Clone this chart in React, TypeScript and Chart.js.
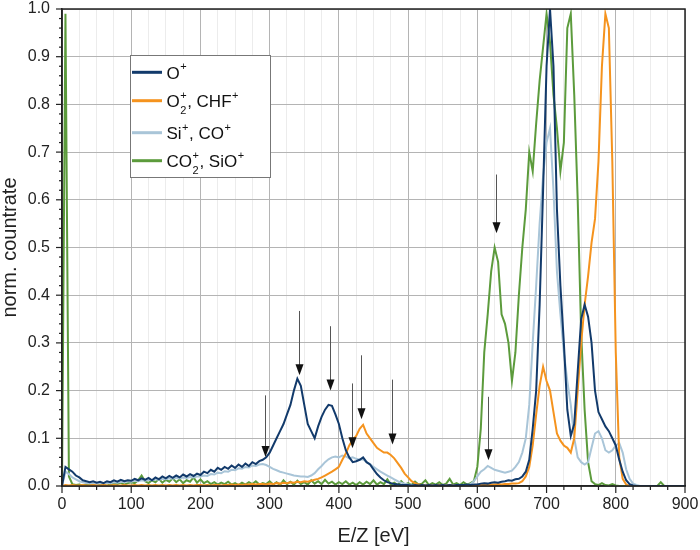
import { useEffect, useRef } from "react";
import { Chart, registerables } from "chart.js";

Chart.register(...registerables);

const FONT = "Arial, 'Liberation Sans', Helvetica, sans-serif";

// Energy grid (eV), 0..900 in 5 eV steps
const energy: number[] = Array.from({ length: 181 }, (_, i) => i * 5);

const oPlus: number[] = [
  0.0, 0.04, 0.035, 0.03, 0.022, 0.018, 0.012, 0.01, 0.008, 0.01, 0.007, 0.009, 0.006, 0.01, 0.008, 0.012, 0.009, 0.013, 0.01, 0.012,
  0.011, 0.015, 0.012, 0.016, 0.013, 0.017, 0.012, 0.018, 0.014, 0.02, 0.016, 0.021, 0.017, 0.022, 0.018, 0.024, 0.02, 0.025, 0.021, 0.026,
  0.023, 0.03, 0.027, 0.034, 0.03, 0.038, 0.034, 0.04, 0.036, 0.043, 0.038, 0.045, 0.04, 0.047, 0.042, 0.05, 0.046, 0.052, 0.055, 0.06,
  0.07, 0.085, 0.1, 0.115, 0.13, 0.15, 0.17, 0.2, 0.225, 0.21, 0.17, 0.13, 0.115, 0.1, 0.125, 0.145, 0.16, 0.17, 0.168, 0.15,
  0.13, 0.1, 0.075, 0.06, 0.05, 0.052, 0.055, 0.06, 0.05, 0.045, 0.035, 0.025, 0.018, 0.012, 0.008, 0.006, 0.004, 0.003, 0.002, 0.002,
  0.002, 0.001, 0.002, 0.001, 0.002, 0.001, 0.002, 0.001, 0.002, 0.001, 0.002, 0.001, 0.002, 0.001, 0.002, 0.002, 0.002, 0.003, 0.002, 0.003,
  0.003, 0.005, 0.006, 0.005, 0.007, 0.008, 0.007, 0.009, 0.01, 0.012, 0.011, 0.014, 0.015, 0.02, 0.03, 0.055, 0.12, 0.2, 0.38, 0.62,
  0.88, 1.0, 0.88, 0.58, 0.42, 0.3, 0.16, 0.105, 0.13, 0.24, 0.35, 0.38, 0.355, 0.3, 0.2, 0.155, 0.14, 0.125, 0.115, 0.1,
  0.085, 0.055, 0.03, 0.012, 0.004, 0.001, 0, 0, 0, 0, 0, 0, 0, 0, 0, 0, 0, 0, 0, 0,
  0,
];

const o2Plus: number[] = [
  0, 0.002, 0.001, 0.002, 0.001, 0.001, 0.002, 0.001, 0.001, 0.002, 0.001, 0.001, 0.002, 0.001, 0.001, 0.002, 0.001, 0.001, 0.002, 0.001,
  0.001, 0.002, 0.001, 0.002, 0.001, 0.002, 0.001, 0.002, 0.001, 0.002, 0.001, 0.002, 0.001, 0.002, 0.001, 0.002, 0.001, 0.002, 0.001, 0.002,
  0.002, 0.001, 0.002, 0.001, 0.002, 0.002, 0.001, 0.002, 0.002, 0.003, 0.002, 0.003, 0.002, 0.003, 0.003, 0.004, 0.003, 0.004, 0.004, 0.003,
  0.005, 0.004, 0.006, 0.005, 0.007, 0.006, 0.008, 0.007, 0.009, 0.008, 0.01, 0.009, 0.011, 0.013, 0.015, 0.018, 0.022, 0.026, 0.03, 0.035,
  0.04, 0.055, 0.068, 0.085, 0.097, 0.105, 0.12, 0.128, 0.11, 0.1, 0.09, 0.08, 0.075, 0.07, 0.07, 0.065, 0.058, 0.048, 0.038, 0.026,
  0.018, 0.01, 0.006, 0.003, 0.002, 0.001, 0.002, 0.001, 0.001, 0.002, 0.001, 0.001, 0.002, 0.001, 0.001, 0.002, 0.001, 0.002, 0.001, 0.002,
  0.002, 0.002, 0.003, 0.002, 0.003, 0.003, 0.004, 0.003, 0.004, 0.004, 0.005, 0.005, 0.006, 0.01, 0.02, 0.04, 0.085, 0.15, 0.21, 0.25,
  0.22, 0.2, 0.155, 0.11, 0.095, 0.085, 0.08, 0.07, 0.1, 0.2, 0.3, 0.38, 0.44, 0.51, 0.56, 0.68, 0.88, 0.99, 0.96, 0.68,
  0.28, 0.06, 0.015, 0.003, 0, 0, 0, 0, 0, 0, 0, 0, 0, 0, 0, 0, 0, 0, 0, 0,
  0,
];

const siPlus: number[] = [
  0, 0.03, 0.025, 0.018, 0.014, 0.01, 0.008, 0.006, 0.005, 0.006, 0.004, 0.006, 0.005, 0.007, 0.006, 0.008, 0.007, 0.009, 0.008, 0.01,
  0.009, 0.011, 0.01, 0.012, 0.011, 0.013, 0.012, 0.014, 0.013, 0.015, 0.014, 0.016, 0.015, 0.017, 0.016, 0.018, 0.017, 0.019, 0.018, 0.02,
  0.02, 0.022, 0.021, 0.025, 0.024, 0.028, 0.027, 0.031, 0.03, 0.034, 0.033, 0.037, 0.036, 0.04, 0.039, 0.043, 0.042, 0.045, 0.046, 0.044,
  0.04, 0.036, 0.033, 0.03, 0.028, 0.026, 0.024, 0.022, 0.021, 0.02, 0.02, 0.019, 0.022, 0.027, 0.035, 0.042, 0.05, 0.056, 0.06, 0.062,
  0.06, 0.064, 0.062, 0.058, 0.06, 0.057, 0.055, 0.056, 0.05, 0.046, 0.04, 0.035, 0.03, 0.026, 0.022, 0.018, 0.014, 0.01, 0.007, 0.005,
  0.003, 0.002, 0.001, 0.002, 0.001, 0.002, 0.001, 0.002, 0.001, 0.002, 0.001, 0.002, 0.001, 0.002, 0.001, 0.002, 0.002, 0.002, 0.004, 0.01,
  0.02, 0.03, 0.035, 0.042, 0.038, 0.034, 0.032, 0.03, 0.028, 0.03, 0.032, 0.04, 0.05, 0.07, 0.1, 0.17, 0.3, 0.42, 0.55, 0.65,
  0.72, 0.75, 0.62, 0.45, 0.36, 0.28, 0.22, 0.17, 0.1, 0.06, 0.05, 0.045, 0.05, 0.08, 0.11, 0.115, 0.1, 0.075, 0.07, 0.075,
  0.085, 0.09, 0.07, 0.035, 0.015, 0.005, 0.002, 0, 0, 0, 0, 0, 0, 0, 0, 0, 0, 0, 0, 0,
  0,
];

const co2Plus: number[] = [
  0, 0.99, 0.02, 0.004, 0.002, 0.003, 0.001, 0.003, 0.002, 0.004, 0.002, 0.005, 0.003, 0.006, 0.002, 0.005, 0.004, 0.007, 0.003, 0.006,
  0.008, 0.006, 0.012, 0.022, 0.01, 0.006, 0.012, 0.008, 0.015, 0.007, 0.013, 0.009, 0.016, 0.008, 0.014, 0.006, 0.012, 0.009, 0.018, 0.007,
  0.014, 0.006, 0.01, 0.004, 0.008, 0.003, 0.007, 0.004, 0.009, 0.003, 0.006, 0.002, 0.007, 0.003, 0.008, 0.004, 0.01, 0.003, 0.006, 0.004,
  0.01, 0.003, 0.008, 0.002, 0.012, 0.004, 0.009, 0.003, 0.011, 0.004, 0.008, 0.003, 0.012, 0.005, 0.01, 0.004, 0.013, 0.005, 0.009, 0.003,
  0.008, 0.004, 0.01, 0.003, 0.007, 0.002, 0.008, 0.003, 0.009, 0.004, 0.012, 0.003, 0.008, 0.004, 0.014, 0.003, 0.007, 0.002, 0.01, 0.003,
  0.006, 0.002, 0.009, 0.003, 0.005, 0.012, 0.002, 0.006, 0.003, 0.008, 0.002, 0.005, 0.015, 0.003, 0.006, 0.002, 0.008, 0.003, 0.006, 0.01,
  0.04, 0.12, 0.28, 0.36, 0.45, 0.5, 0.47, 0.36, 0.34, 0.3, 0.22, 0.28, 0.4, 0.5, 0.58, 0.7, 0.66, 0.76, 0.85, 0.92,
  0.99, 0.93, 0.82, 0.75, 0.66, 0.72, 0.96, 0.99, 0.82, 0.6, 0.32, 0.16, 0.05, 0.01, 0.004, 0.002, 0.006, 0.002, 0.001, 0.004,
  0.001, 0, 0, 0, 0, 0, 0, 0, 0, 0, 0, 0, 0, 0.008, 0, 0, 0, 0, 0, 0,
  0,
];

// Annotation arrows: x position, start value, tip value
const arrowX: number[] = [293, 342, 387, 419, 432, 477, 616, 627];
const arrowFrom: number[] = [0.19, 0.367, 0.335, 0.215, 0.274, 0.223, 0.187, 0.653];
const arrowTo: number[] = [0.061, 0.232, 0.2, 0.079, 0.14, 0.087, 0.054, 0.53];

const seriesColors = ["#123a6b", "#f5931e", "#a9c5d8", "#5c9b3c"];

type Seg = { text?: string; sub?: string; sup?: string };
const legendLabels: Seg[][] = [
  [{ text: "O" }, { sup: "+" }],
  [{ text: "O" }, { sub: "2", sup: "+" }, { text: ", CHF" }, { sup: "+" }],
  [{ text: "Si" }, { sup: "+" }, { text: ", CO" }, { sup: "+" }],
  [{ text: "CO" }, { sub: "2", sup: "+" }, { text: ", SiO" }, { sup: "+" }],
];

const decorPlugin = {
  id: "decor",
  afterDatasetsDraw(chart: any) {
    const { ctx, scales } = chart;
    const x = scales.x;
    const y = scales.y;
    ctx.save();
    for (let i = 0; i < arrowX.length; i++) {
      const px = Math.round(x.getPixelForValue(arrowX[i])) + 0.5;
      const p1 = y.getPixelForValue(arrowFrom[i]);
      const p2 = y.getPixelForValue(arrowTo[i]);
      ctx.strokeStyle = "#555";
      ctx.lineWidth = 1;
      ctx.beginPath();
      ctx.moveTo(px, p1);
      ctx.lineTo(px, p2 - 9);
      ctx.stroke();
      ctx.fillStyle = "#111";
      ctx.beginPath();
      ctx.moveTo(px - 4, p2 - 11);
      ctx.lineTo(px + 4, p2 - 11);
      ctx.lineTo(px, p2);
      ctx.closePath();
      ctx.fill();
    }
    ctx.restore();
  },
  afterDraw(chart: any) {
    const { ctx, chartArea: a, scales } = chart;
    const x = scales.x;
    const y = scales.y;
    ctx.save();
    ctx.strokeStyle = "#222";
    ctx.lineWidth = 1.5;
    ctx.strokeRect(a.left, a.top, a.right - a.left, a.bottom - a.top);
    ctx.lineWidth = 1.2;
    for (let v = 0; v <= 900; v += 25) {
      const px = x.getPixelForValue(v);
      const len = v % 100 === 0 ? 7 : 4;
      ctx.beginPath();
      ctx.moveTo(px, a.bottom);
      ctx.lineTo(px, a.bottom + len);
      ctx.stroke();
    }
    for (let i = 0; i <= 50; i++) {
      const py = y.getPixelForValue(i / 50);
      const len = i % 5 === 0 ? 6 : 3;
      ctx.beginPath();
      ctx.moveTo(a.left - len, py);
      ctx.lineTo(a.left, py);
      ctx.stroke();
    }
    // legend
    const bx = 130.5, by = 55.5, bw = 140, bh = 122;
    ctx.fillStyle = "#fff";
    ctx.fillRect(bx, by, bw, bh);
    ctx.strokeStyle = "#777";
    ctx.lineWidth = 1;
    ctx.strokeRect(bx, by, bw, bh);
    const rows = [72.3, 100.7, 132.7, 160.7];
    legendLabels.forEach((segs, i) => {
      const cy = rows[i];
      ctx.strokeStyle = seriesColors[i];
      ctx.lineWidth = 3;
      ctx.beginPath();
      ctx.moveTo(132, cy);
      ctx.lineTo(162, cy);
      ctx.stroke();
      let cx = 166.5;
      const base = cy + 6.5;
      ctx.fillStyle = "#111";
      ctx.textBaseline = "alphabetic";
      ctx.textAlign = "left";
      for (const s of segs) {
        if (s.text) {
          ctx.font = `17px ${FONT}`;
          ctx.fillText(s.text, cx, base);
          cx += ctx.measureText(s.text).width;
        } else {
          ctx.font = `11px ${FONT}`;
          let w = 0;
          if (s.sup) {
            ctx.fillText(s.sup, cx + 0.5, base - 8.5);
            w = Math.max(w, ctx.measureText(s.sup).width);
          }
          if (s.sub) {
            ctx.fillText(s.sub, cx + 0.5, base + 6.5);
            w = Math.max(w, ctx.measureText(s.sub).width);
          }
          cx += w + 1;
        }
      }
    });
    ctx.restore();
  },
};

export default function App() {
  const ref = useRef<HTMLCanvasElement>(null);
  useEffect(() => {
    const seriesList = [oPlus, o2Plus, siPlus, co2Plus];
    const names = ["O+", "O2+, CHF+", "Si+, CO+", "CO2+, SiO+"];
    const chart = new Chart(ref.current as HTMLCanvasElement, {
      type: "line",
      data: {
        datasets: seriesList.map((s, k) => ({
          label: names[k],
          data: energy.map((e, i) => ({ x: e, y: s[i] })),
          borderColor: seriesColors[k],
          backgroundColor: seriesColors[k],
          borderWidth: 2,
          pointRadius: 0,
          tension: 0,
          fill: false,
        })),
      },
      options: {
        animation: false,
        responsive: false,
        layout: { padding: { top: 9, right: 15, bottom: 0, left: 0 } },
        plugins: {
          legend: { display: false },
          tooltip: { enabled: false },
        },
        scales: {
          x: {
            type: "linear",
            min: 0,
            max: 900,
            afterFit: (s: any) => {
              s.height = 64;
              s.paddingLeft = 0;
              s.paddingRight = 0;
            },
            border: { display: true, color: "#222", width: 1.5 },
            grid: {
              drawTicks: false,
              lineWidth: 1,
              color: (c: any) =>
                c.tick && c.tick.value % 100 === 0 ? "#b4b4b4" : "#ececec",
            },
            ticks: {
              stepSize: 25,
              autoSkip: false,
              maxRotation: 0,
              padding: 9,
              color: "#222",
              font: { family: FONT, size: 16 },
              callback: (v: any) => (Number(v) % 100 === 0 ? String(v) : ""),
            },
            title: {
              display: true,
              text: "E/Z [eV]",
              color: "#222",
              font: { family: FONT, size: 20, lineHeight: 1.2 },
              padding: { top: 0, bottom: 2 },
            },
          },
          y: {
            type: "linear",
            min: 0,
            max: 1,
            afterFit: (s: any) => {
              s.width = 62;
              s.paddingTop = 0;
              s.paddingBottom = 0;
            },
            border: { display: true, color: "#222", width: 1.5 },
            grid: { drawTicks: false, color: "#b4b4b4", lineWidth: 1 },
            ticks: {
              stepSize: 0.1,
              padding: 12,
              color: "#222",
              font: { family: FONT, size: 16 },
              callback: (v: any) => Number(v).toFixed(1),
            },
            title: {
              display: true,
              text: "norm. countrate",
              color: "#222",
              font: { family: FONT, size: 20, lineHeight: 1 },
              padding: { top: 0, bottom: 0 },
            },
          },
        },
      },
      plugins: [decorPlugin],
    });
    return () => chart.destroy();
  }, []);
  return (
    <div style={{ position: "absolute", left: 0, top: 0, width: 700, height: 550, background: "#fff" }}>
      <canvas ref={ref} width={700} height={550} style={{ display: "block" }} />
    </div>
  );
}
